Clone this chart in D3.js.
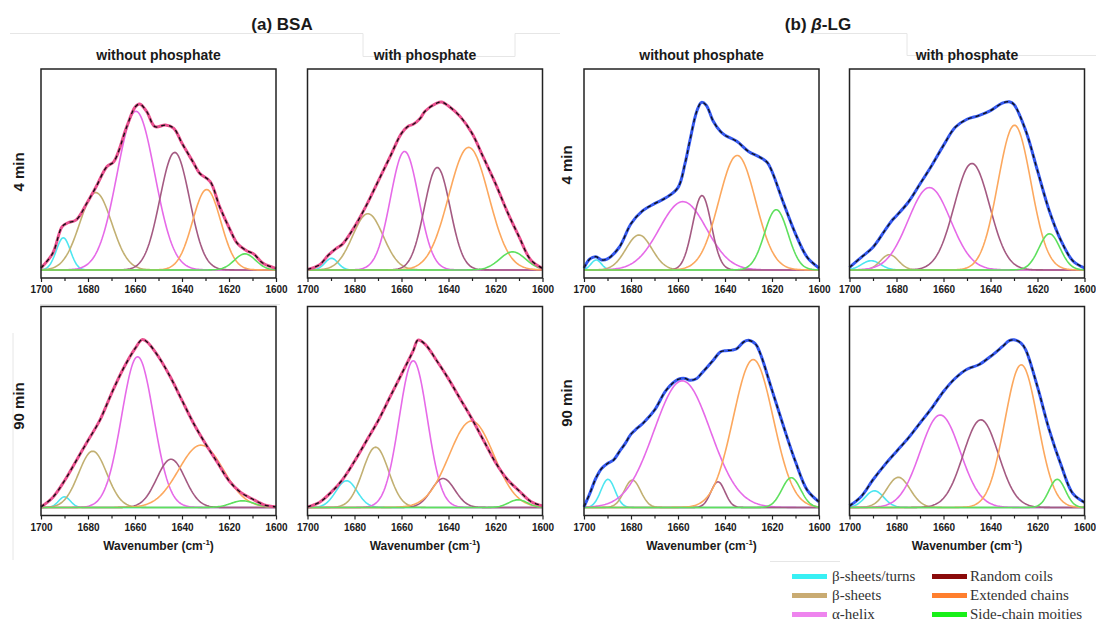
<!DOCTYPE html>
<html>
<head>
<meta charset="utf-8">
<script src="https://cdn.jsdelivr.net/npm/d3@7"></script>
<style>
  body { margin: 0; background: #fff; }
  text { font-family: Arial, "Liberation Sans", sans-serif; fill: #1a1a1a; }
  text.legend-label { font-family: "Liberation Serif", "Times New Roman", serif; fill: #333; }
</style>
</head>
<body>
<div id="chart"></div>
<script>
var svgWidth = 1096;
var svgHeight = 622;
var panelWidth = 235;
var panelHeight = 209;

var bandLabels = ["β-sheets/turns", "β-sheets", "α-helix", "Random coils", "Extended chains", "Side-chain moities"];
var majorTicks = [1700, 1680, 1660, 1640, 1620, 1600];
var minorTicks = [1690, 1670, 1650, 1630, 1610];

// fitted bands: [centre cm-1, height, sigma cm-1], order as bandLabels
var bsa4Without = [[1690.5, 0.16, 3.0], [1676.7, 0.385, 6.8], [1659.6, 0.79, 8.0], [1643.1, 0.585, 6.3], [1629.5, 0.40, 6.0], [1613.2, 0.08, 4.5]];
var bsa4With = [[1689.8, 0.058, 2.8], [1674.3, 0.28, 6.5], [1658.7, 0.59, 6.0], [1644.8, 0.51, 5.5], [1631.4, 0.61, 8.5], [1612.7, 0.09, 5.5]];
var blg4Without = [[1694.8, 0.05, 2.2], [1676.6, 0.174, 5.5], [1657.9, 0.34, 10.0], [1649.8, 0.37, 4.0], [1634.8, 0.57, 7.8], [1618.2, 0.30, 5.0]];
var blg4With = [[1690.8, 0.046, 4.0], [1683.0, 0.076, 3.8], [1666.0, 0.41, 9.0], [1647.9, 0.53, 7.5], [1629.8, 0.72, 7.0], [1614.9, 0.18, 4.5]];
var bsa90Without = [[1690.0, 0.053, 2.5], [1678.0, 0.28, 6.0], [1658.9, 0.75, 6.8], [1644.7, 0.24, 6.0], [1631.9, 0.31, 9.5], [1614.2, 0.033, 5.0]];
var bsa90With = [[1683.4, 0.133, 4.5], [1671.0, 0.30, 5.5], [1655.0, 0.73, 6.0], [1642.3, 0.144, 5.0], [1630.2, 0.43, 9.5], [1610.4, 0.038, 4.0]];
var blg90Without = [[1689.8, 0.14, 3.0], [1679.4, 0.136, 3.5], [1658.2, 0.63, 12.0], [1643.0, 0.128, 3.0], [1628.0, 0.736, 8.5], [1611.8, 0.148, 4.0]];
var blg90With = [[1689.4, 0.083, 4.0], [1679.2, 0.15, 5.0], [1661.4, 0.46, 8.5], [1644.1, 0.436, 7.5], [1626.9, 0.71, 7.0], [1611.6, 0.14, 3.5]];

// measured amide I spectra: [wavenumber, absorbance]
var bsa4WithoutSpec = [[1700, 0.01], [1695, 0.083], [1691, 0.216], [1688.5, 0.235], [1685, 0.249], [1680.5, 0.332], [1676.5, 0.415], [1672, 0.514], [1669, 0.539], [1663.5, 0.713], [1660, 0.81], [1658, 0.826], [1655, 0.788], [1651.5, 0.713], [1647, 0.721], [1643.5, 0.705], [1640, 0.63], [1635, 0.531], [1632.5, 0.481], [1628, 0.44], [1624, 0.315], [1619.5, 0.199], [1616.5, 0.133], [1612.5, 0.096], [1609.5, 0.08], [1605.5, 0.033], [1600, 0.008]];
var bsa4WithSpec = [[1700, 0.003], [1695, 0.025], [1691, 0.075], [1688, 0.105], [1685, 0.13], [1680, 0.215], [1675, 0.32], [1670, 0.44], [1665, 0.56], [1660, 0.68], [1657, 0.716], [1655, 0.725], [1652, 0.755], [1650, 0.79], [1645, 0.83], [1643, 0.836], [1640, 0.816], [1635, 0.763], [1630, 0.68], [1625, 0.556], [1620, 0.43], [1615, 0.29], [1610, 0.166], [1605, 0.05], [1600, 0.008]];
var blg4WithoutSpec = [[1700, 0.01], [1697.5, 0.055], [1695, 0.066], [1692.5, 0.05], [1690, 0.055], [1685, 0.113], [1680, 0.23], [1675, 0.295], [1670, 0.33], [1665, 0.36], [1660, 0.41], [1657, 0.53], [1655, 0.64], [1652, 0.79], [1650, 0.834], [1648, 0.82], [1645, 0.74], [1642, 0.69], [1640, 0.67], [1635, 0.64], [1630, 0.59], [1625, 0.56], [1622, 0.535], [1620, 0.49], [1615, 0.33], [1610, 0.18], [1605, 0.063], [1600, 0.01]];
var blg4WithSpec = [[1700, 0.013], [1695, 0.063], [1690, 0.113], [1685, 0.196], [1682, 0.245], [1680, 0.27], [1675, 0.337], [1670, 0.428], [1665, 0.52], [1660, 0.62], [1655, 0.71], [1650, 0.75], [1645, 0.768], [1640, 0.793], [1635, 0.83], [1632, 0.837], [1630, 0.823], [1625, 0.693], [1620, 0.494], [1615, 0.295], [1610, 0.146], [1605, 0.046], [1600, 0.01]];
var bsa90WithoutSpec = [[1700, 0.003], [1695, 0.05], [1690, 0.133], [1685, 0.233], [1680, 0.333], [1675, 0.433], [1670, 0.567], [1665, 0.69], [1660, 0.79], [1657, 0.835], [1655, 0.825], [1650, 0.75], [1645, 0.65], [1640, 0.533], [1635, 0.417], [1630, 0.317], [1625, 0.225], [1620, 0.133], [1615, 0.075], [1610, 0.042], [1605, 0.013], [1600, 0.003]];
var bsa90WithSpec = [[1700, 0.003], [1695, 0.025], [1690, 0.075], [1685, 0.14], [1680, 0.23], [1675, 0.33], [1670, 0.43], [1665, 0.547], [1660, 0.663], [1655, 0.78], [1653, 0.833], [1650, 0.813], [1645, 0.73], [1640, 0.64], [1635, 0.54], [1630, 0.44], [1625, 0.332], [1620, 0.224], [1615, 0.14], [1610, 0.083], [1605, 0.03], [1600, 0.008]];
var blg90WithoutSpec = [[1700, 0.003], [1697.5, 0.07], [1695, 0.144], [1692.5, 0.194], [1690, 0.219], [1687.5, 0.235], [1685, 0.277], [1682.5, 0.318], [1680, 0.365], [1677.5, 0.393], [1675, 0.418], [1670, 0.484], [1665, 0.584], [1660, 0.637], [1657, 0.642], [1655, 0.633], [1652, 0.642], [1650, 0.667], [1645, 0.733], [1642, 0.774], [1640, 0.78], [1637, 0.783], [1635, 0.79], [1632, 0.824], [1630, 0.832], [1627, 0.813], [1625, 0.766], [1620, 0.584], [1615, 0.40], [1610, 0.227], [1605, 0.086], [1600, 0.028]];
var blg90WithSpec = [[1700, 0.008], [1695, 0.055], [1690, 0.138], [1685, 0.212], [1680, 0.279], [1675, 0.345], [1670, 0.42], [1665, 0.494], [1660, 0.577], [1655, 0.643], [1650, 0.688], [1645, 0.71], [1640, 0.751], [1635, 0.80], [1632, 0.83], [1630, 0.834], [1627, 0.818], [1625, 0.784], [1620, 0.60], [1615, 0.386], [1610, 0.212], [1605, 0.07], [1600, 0.025]];

var curveColors = ["#4ee6f0", "#c2b072", "#e66ae8", "#a45a82", "#fca85e", "#5ee05e"];
var legendColors = ["#38f0f4", "#c9ab72", "#ee84ee", "#8a0a0a", "#ff7f2e", "#18f018"];
var bsaColor = "#e8508e";
var blgColor = "#3458ee";

var svg = d3.select("#chart")
    .append("svg")
    .attr("width", svgWidth)
    .attr("height", svgHeight);

// faint edges of the pasted sub-figures
var faint = [[10, 33.5, 363, 33.5], [363, 33.5, 363, 56.5], [363, 56.5, 515, 56.5], [515, 33.5, 515, 56.5], [515, 33.5, 560, 33.5],
    [810, 33.5, 907, 33.5], [907, 33.5, 907, 55.5], [907, 55.5, 1096, 55.5], [40, 304.5, 280, 304.5], [13, 333, 13, 560], [770, 561.5, 840, 561.5]];
svg.selectAll("line.faint")
    .data(faint)
    .enter().append("line")
    .attr("class", "faint")
    .attr("x1", d => d[0]).attr("y1", d => d[1])
    .attr("x2", d => d[2]).attr("y2", d => d[3])
    .attr("stroke", "#e6e6e6")
    .attr("stroke-width", 1);

var x = d3.scaleLinear().domain([1700, 1600]).range([0, panelWidth]);
var y = d3.scaleLinear().domain([-0.04, 1]).range([panelHeight, 0]);
var grid = d3.range(1700, 1599.9, -0.5);

var line = d3.line()
    .x(d => x(d[0]))
    .y(d => y(d[1]));

var specLine = d3.line()
    .curve(d3.curveCatmullRom.alpha(0.5))
    .x(d => x(d[0]))
    .y(d => y(d[1]));

function drawPanel(left, top, bands, spec, specColor) {
    var g = svg.append("g")
        .attr("transform", `translate(${left}, ${top})`);

    bands.forEach(function (b, i) {
        var pts = grid.map(w => [w, b[1] * Math.exp(-Math.pow(w - b[0], 2) / (2 * b[2] * b[2]))]);
        g.append("path")
            .datum(pts)
            .attr("d", line)
            .attr("fill", "none")
            .attr("stroke", curveColors[i])
            .attr("stroke-width", 1.6);
    });

    g.append("path")
        .datum(spec)
        .attr("d", specLine)
        .attr("fill", "none")
        .attr("stroke", specColor)
        .attr("stroke-width", 3);
    g.append("path")
        .datum(spec)
        .attr("d", specLine)
        .attr("fill", "none")
        .attr("stroke", "#111")
        .attr("stroke-width", 1.3)
        .attr("stroke-dasharray", "4,4");

    var major = g.append("g")
        .attr("transform", `translate(0, ${panelHeight})`)
        .call(d3.axisBottom(x).tickValues(majorTicks).tickSize(4).tickPadding(4).tickFormat(d3.format("d")));
    var minor = g.append("g")
        .attr("transform", `translate(0, ${panelHeight})`)
        .call(d3.axisBottom(x).tickValues(minorTicks).tickSize(3).tickFormat(""));
    major.select(".domain").remove();
    minor.select(".domain").remove();
    g.selectAll(".tick line").attr("stroke", "#222").attr("stroke-width", 1.2);
    major.selectAll("text")
        .attr("font-size", 10)
        .attr("font-weight", "bold")
        .attr("fill", "#222");

    g.append("rect")
        .attr("width", panelWidth)
        .attr("height", panelHeight)
        .attr("fill", "none")
        .attr("stroke", "#222")
        .attr("stroke-width", 1.5);
}

var colLeft = [41, 307.5, 584, 849.5];
var rowTop = [69, 306.5];

drawPanel(colLeft[0], rowTop[0], bsa4Without, bsa4WithoutSpec, bsaColor);
drawPanel(colLeft[1], rowTop[0], bsa4With, bsa4WithSpec, bsaColor);
drawPanel(colLeft[2], rowTop[0], blg4Without, blg4WithoutSpec, blgColor);
drawPanel(colLeft[3], rowTop[0], blg4With, blg4WithSpec, blgColor);
drawPanel(colLeft[0], rowTop[1], bsa90Without, bsa90WithoutSpec, bsaColor);
drawPanel(colLeft[1], rowTop[1], bsa90With, bsa90WithSpec, bsaColor);
drawPanel(colLeft[2], rowTop[1], blg90Without, blg90WithoutSpec, blgColor);
drawPanel(colLeft[3], rowTop[1], blg90With, blg90WithSpec, blgColor);

// headings
svg.append("text")
    .attr("x", 282).attr("y", 29.5)
    .attr("text-anchor", "middle")
    .attr("font-size", 17).attr("font-weight", "bold")
    .text("(a) BSA");

var blgTitle = svg.append("text")
    .attr("x", 818).attr("y", 29.5)
    .attr("text-anchor", "middle")
    .attr("font-size", 17).attr("font-weight", "bold");
blgTitle.append("tspan").text("(b) ");
blgTitle.append("tspan").attr("font-style", "italic").text("β");
blgTitle.append("tspan").text("-LG");

var colTitles = ["without phosphate", "with phosphate", "without phosphate", "with phosphate"];
colTitles.forEach(function (t, i) {
    svg.append("text")
        .attr("x", colLeft[i] + panelWidth / 2)
        .attr("y", 59.5)
        .attr("text-anchor", "middle")
        .attr("font-size", 14).attr("font-weight", "bold")
        .text(t);

    var xl = svg.append("text")
        .attr("x", colLeft[i] + panelWidth / 2)
        .attr("y", 550)
        .attr("text-anchor", "middle")
        .attr("font-size", 12).attr("font-weight", "bold");
    xl.append("tspan").text("Wavenumber (cm");
    xl.append("tspan").attr("font-size", 8).attr("dy", -5).text("-1");
    xl.append("tspan").attr("dy", 5).text(")");
});

var rowLabels = [[23.5, 172, "4 min"], [23.5, 406, "90 min"], [572, 165, "4 min"], [572, 403, "90 min"]];
rowLabels.forEach(function (r) {
    svg.append("text")
        .attr("transform", `translate(${r[0]}, ${r[1]}) rotate(-90)`)
        .attr("text-anchor", "middle")
        .attr("font-size", 15).attr("font-weight", "bold")
        .text(r[2]);
});

// legend
var legend = svg.append("g");
bandLabels.forEach(function (label, i) {
    var col = Math.floor(i / 3);
    var row = i % 3;
    var lx = col === 0 ? 792 : 932;
    var ly = 576.5 + row * 19;
    legend.append("rect")
        .attr("x", lx).attr("y", ly - 2.5)
        .attr("width", 35).attr("height", 5)
        .attr("fill", legendColors[i]);
    legend.append("text")
        .attr("class", "legend-label")
        .attr("x", lx + (col === 0 ? 40 : 38))
        .attr("y", ly + 4)
        .attr("font-size", 15)
        .text(label);
});
</script>
</body>
</html>
